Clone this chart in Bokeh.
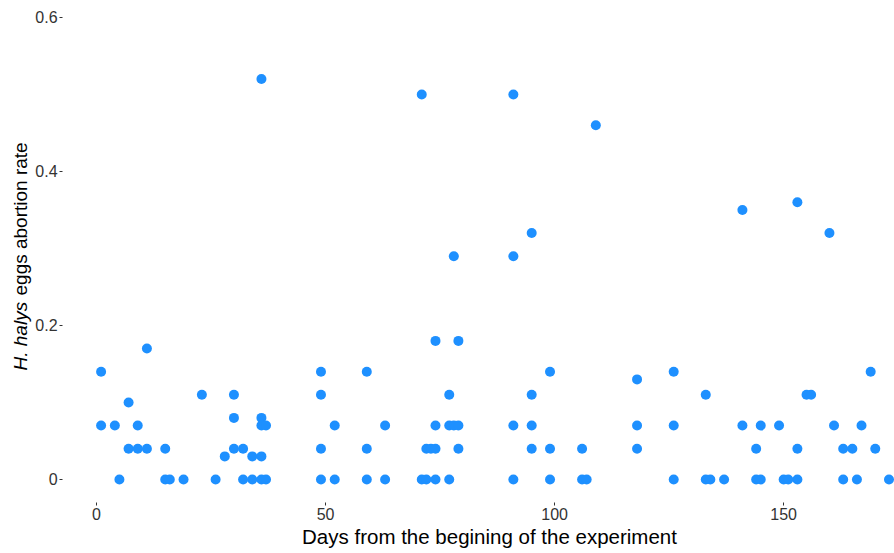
import math
from bokeh.plotting import figure
from bokeh.models import Range1d, Label, FixedTicker
from bokeh.embed import file_html
from bokeh.resources import INLINE

# ---- data ----
days = [1, 1, 4, 5, 7, 7, 9, 9, 11, 11, 15, 15, 16, 19, 23, 26, 28,
        30, 30, 30, 32, 32, 34, 34, 36, 36, 36, 36, 36, 37, 37,
        49, 49, 49, 49, 52, 52, 59, 59, 59, 63, 63, 71, 71, 72, 72, 73,
        74, 74, 74, 74, 77, 77, 77, 78, 78, 79, 79, 79,
        91, 91, 91, 91, 95, 95, 95, 95, 99, 99, 99, 106, 106, 107, 109,
        118, 118, 118, 126, 126, 126, 133, 133, 134, 137, 141, 141,
        144, 144, 145, 145, 149, 150, 151, 153, 153, 153, 155, 156,
        160, 161, 163, 163, 165, 166, 167, 169, 170, 173]
rates = [0.14, 0.07, 0.07, 0.00, 0.10, 0.04, 0.07, 0.04, 0.17, 0.04, 0.04, 0.00, 0.00, 0.00, 0.11, 0.00, 0.03,
         0.11, 0.08, 0.04, 0.04, 0.00, 0.03, 0.00, 0.52, 0.08, 0.07, 0.03, 0.00, 0.07, 0.00,
         0.14, 0.11, 0.04, 0.00, 0.07, 0.00, 0.14, 0.04, 0.00, 0.07, 0.00, 0.50, 0.00, 0.04, 0.00, 0.04,
         0.18, 0.07, 0.04, 0.00, 0.11, 0.07, 0.00, 0.29, 0.07, 0.18, 0.07, 0.04,
         0.50, 0.29, 0.07, 0.00, 0.32, 0.11, 0.07, 0.04, 0.14, 0.04, 0.00, 0.04, 0.00, 0.00, 0.46,
         0.13, 0.07, 0.04, 0.14, 0.07, 0.00, 0.11, 0.00, 0.00, 0.00, 0.35, 0.07,
         0.04, 0.00, 0.07, 0.00, 0.07, 0.00, 0.00, 0.36, 0.04, 0.00, 0.11, 0.11,
         0.32, 0.07, 0.04, 0.00, 0.04, 0.00, 0.07, 0.14, 0.04, 0.00]

x_ticks = [0, 50, 100, 150]
y_ticks = [0.0, 0.2, 0.4, 0.6]
y_tick_labels = {0.0: "0", 0.2: "0.2", 0.4: "0.4", 0.6: "0.6"}
x_title = "Days from the begining of the experiment"
y_title_italic = "H. halys"
y_title_rest = "eggs abortion rate"

FONT = "Liberation Sans"

# panel limits (where the axes sit) and the full visible extent
X_PANEL_LEFT = -7.42
Y_PANEL_BOTTOM = -0.0299

p = figure(width=894, height=553, output_backend="svg", toolbar_location=None,
           x_range=Range1d(-20.96, 174.2), y_range=Range1d(-0.0961, 0.622),
           min_border_left=0, min_border_right=0, min_border_top=0, min_border_bottom=0)

p.scatter(days, rates, size=10, fill_color="#1E90FF", line_color=None)

p.grid.visible = False
p.outline_line_color = None
p.background_fill_color = "white"
p.border_fill_color = "white"

for ax in (p.xaxis, p.yaxis):
    ax.axis_line_color = None
    ax.major_tick_line_color = "#333333"
    ax.major_tick_in = 0
    ax.major_tick_out = 3
    ax.minor_tick_line_color = None
    ax.major_label_text_font = FONT
    ax.major_label_text_font_size = "16px"
    ax.major_label_text_color = "#333333"
    ax.major_label_standoff = 2

p.xaxis.fixed_location = Y_PANEL_BOTTOM
p.yaxis.fixed_location = X_PANEL_LEFT
p.xaxis.ticker = FixedTicker(ticks=x_ticks)
p.yaxis.ticker = FixedTicker(ticks=y_ticks)
p.yaxis.major_label_overrides = y_tick_labels

# titles (screen units: x from left, y up from bottom of the frame)
p.add_layout(Label(x=489, y=17, x_units="screen", y_units="screen", text=x_title,
                   level="overlay", text_font=FONT, text_font_size="20.5px",
                   text_color="black", text_align="center", text_baseline="middle"))
p.add_layout(Label(x=20, y=183, x_units="screen", y_units="screen", text=y_title_italic,
                   angle=math.pi / 2, level="overlay",
                   text_font=FONT, text_font_size="19px", text_font_style="italic",
                   text_color="black", text_align="left", text_baseline="middle"))
p.add_layout(Label(x=20, y=258, x_units="screen", y_units="screen", text=y_title_rest,
                   angle=math.pi / 2, level="overlay",
                   text_font=FONT, text_font_size="19px", text_font_style="normal",
                   text_color="black", text_align="left", text_baseline="middle"))

open("out.html", "w").write(file_html(p, INLINE))
